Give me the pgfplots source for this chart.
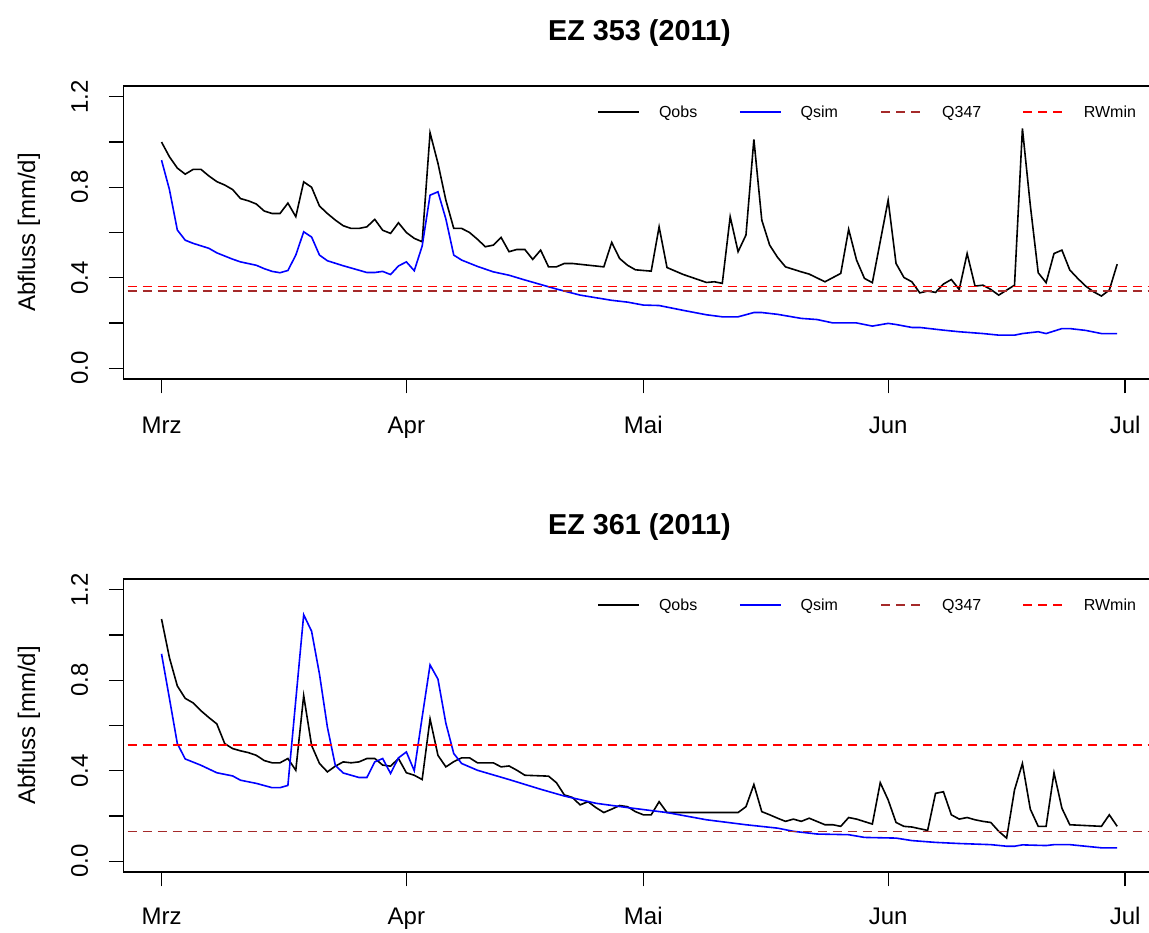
\documentclass[border=0pt]{standalone}
\usepackage{fontspec}
\setmainfont{Liberation Sans}
\usepackage{pgfplots}
\pgfplotsset{compat=1.18}
\definecolor{qbrown}{RGB}{165,42,42}
\definecolor{qblue}{RGB}{0,0,255}
\definecolor{qred}{RGB}{255,0,0}

\pgfplotsset{
  ezaxis/.style={
    scale only axis, width=516.05pt, height=146.5pt,
    xmin=-4.84, xmax=125.84, ymin=-0.048, ymax=1.248,
    xtick={0,31,61,92,122}, xticklabels={Mrz,Apr,Mai,Jun,Jul},
    ytick={0,0.4,0.8,1.2}, yticklabels={0.0,0.4,0.8,1.2},
    minor ytick={0.2,0.6,1.0},
    tick align=outside, tick pos=left,
    major tick length=7.2pt, minor tick length=7.2pt,
    every tick/.style={black, line width=0.6pt},
    axis line style={line width=0.6pt, black},
    ticklabel style={font=\fontsize{12}{14}\selectfont},
    xticklabel style={anchor=base, yshift=-20.25pt},
    yticklabel style={xshift=-10.5pt, rotate=90, anchor=base},
    ylabel={Abfluss [mm/d]},
    ylabel style={at={(axis description cs:-0.0855,0.5)}, anchor=base, rotate=0, font=\fontsize{12}{14}\selectfont},
    title style={at={(axis description cs:0.5,1)}, anchor=base, yshift=16.5pt, font=\bfseries\fontsize{14.4}{17}\selectfont},
    legend columns=4,
    legend cell align=left,
    legend image code/.code={\draw[#1] (0pt,0.4pt) -- (20.5pt,0.4pt);},
    legend style={at={(axis description cs:0.459,0.908)}, anchor=west, draw=none, fill=none, inner sep=0pt,
      font=\fontsize{8}{9.6}\selectfont,
      /tikz/every odd column/.append style={column sep=9.5pt},
      /tikz/every even column/.append style={column sep=0pt},
      nodes={inner sep=0pt, text width=40pt, align=left}},
  },
  obs/.style={black, line width=0.8pt},
  sim/.style={qblue, line width=0.8pt},
  q347/.style={qbrown, line width=0.8pt, dash pattern=on 4.5pt off 3pt},
  rwmin/.style={qred, line width=0.8pt, dash pattern=on 4.5pt off 3pt},
}

\begin{document}
\begin{tikzpicture}
\path[use as bounding box] (0,0) rectangle (574.5pt,466pt);

% ---------------- EZ 353 ----------------
\begin{axis}[ezaxis, at={(61.65pt,423pt)}, anchor=north west, title={EZ 353 (2011)}]
\addplot[obs] table {
0 1.00
1 0.935
2 0.885
3 0.858
4 0.879
5 0.879
6 0.85
7 0.825
8 0.81
9 0.79
10 0.75
11 0.74
12 0.726
13 0.695
14 0.684
15 0.684
16 0.73
17 0.67
18 0.824
19 0.80
20 0.717
21 0.684
22 0.655
23 0.63
24 0.618
25 0.618
26 0.625
27 0.658
28 0.61
29 0.596
30 0.643
31 0.60
32 0.574
33 0.559
34 1.041
35 0.906
36 0.743
37 0.618
38 0.618
39 0.60
40 0.57
41 0.537
42 0.544
43 0.578
44 0.515
45 0.525
46 0.525
47 0.481
48 0.522
49 0.448
50 0.448
51 0.463
52 0.463
56 0.448
57 0.556
58 0.485
59 0.455
60 0.435
62 0.429
63 0.625
64 0.445
66 0.415
69 0.379
70 0.382
71 0.375
72 0.67
73 0.515
74 0.589
75 1.012
76 0.655
77 0.544
78 0.49
79 0.448
81 0.426
82 0.416
84 0.382
86 0.419
87 0.614
88 0.478
89 0.397
90 0.378
92 0.743
93 0.463
94 0.401
95 0.382
96 0.333
97 0.341
98 0.335
99 0.372
100 0.392
101 0.348
102 0.507
103 0.363
104 0.367
105 0.348
106 0.323
107 0.345
108 0.367
109 1.06
110 0.72
111 0.422
112 0.378
113 0.507
114 0.522
115 0.434
116 0.397
117 0.363
118 0.338
119 0.319
120 0.345
121 0.46
};
\addlegendentry{Qobs}
\addplot[sim] table {
0 0.92
1 0.79
2 0.611
3 0.566
4 0.552
6 0.53
7 0.51
9 0.482
10 0.47
12 0.455
13 0.44
14 0.428
15 0.422
16 0.432
17 0.50
18 0.603
19 0.58
20 0.50
21 0.475
23 0.453
24 0.443
26 0.423
27 0.423
28 0.428
29 0.414
30 0.452
31 0.47
32 0.431
33 0.54
34 0.765
35 0.78
36 0.66
37 0.50
38 0.478
40 0.45
42 0.426
44 0.411
46 0.39
48 0.37
50 0.35
53 0.323
57 0.30
59 0.292
61 0.279
63 0.277
66 0.256
69 0.236
71 0.227
73 0.227
75 0.246
76 0.246
78 0.238
81 0.22
83 0.215
85 0.20
88 0.20
90 0.186
92 0.198
93 0.193
95 0.18
96 0.18
99 0.168
101 0.161
104 0.153
106 0.146
108 0.146
109 0.153
111 0.161
112 0.153
114 0.175
115 0.175
117 0.167
119 0.153
121 0.153
};
\addlegendentry{Qsim}
\addplot[q347] table {
-10 0.342
135 0.342
};
\addlegendentry{Q347}
\addplot[rwmin] table {
-10 0.361
135 0.361
};
\addlegendentry{RWmin}
\end{axis}

% ---------------- EZ 361 ----------------
\begin{axis}[ezaxis, at={(61.65pt,176.5pt)}, anchor=north west, title={EZ 361 (2011)},
  xticklabel style={yshift=1pt}]
\addplot[obs] table {
0 1.071
1 0.90
2 0.775
3 0.72
4 0.70
5 0.665
6 0.635
7 0.607
8 0.52
9 0.498
10 0.488
11 0.48
12 0.468
13 0.445
14 0.435
15 0.435
16 0.454
17 0.402
18 0.732
19 0.512
20 0.432
21 0.395
22 0.42
23 0.439
24 0.435
25 0.439
26 0.454
27 0.454
28 0.425
29 0.42
30 0.454
31 0.391
32 0.38
33 0.361
34 0.629
35 0.468
36 0.417
37 0.44
38 0.457
39 0.457
40 0.435
42 0.435
43 0.417
44 0.421
45 0.402
46 0.38
49 0.376
50 0.347
51 0.293
52 0.282
53 0.249
54 0.263
55 0.237
56 0.215
57 0.23
58 0.246
59 0.241
60 0.219
61 0.205
62 0.205
63 0.263
64 0.215
73 0.215
74 0.241
75 0.339
76 0.219
77 0.205
78 0.19
79 0.176
80 0.186
81 0.176
82 0.19
84 0.161
85 0.161
86 0.154
87 0.193
88 0.186
90 0.164
91 0.347
92 0.271
93 0.171
94 0.154
95 0.151
97 0.136
98 0.30
99 0.307
100 0.205
101 0.186
102 0.193
103 0.183
104 0.176
105 0.171
106 0.132
107 0.102
108 0.315
109 0.432
110 0.23
111 0.154
112 0.154
113 0.391
114 0.234
115 0.161
119 0.154
120 0.205
121 0.154
};
\addlegendentry{Qobs}
\addplot[sim] table {
0 0.917
1 0.72
2 0.52
3 0.452
5 0.424
7 0.391
9 0.377
10 0.358
12 0.344
14 0.325
15 0.325
16 0.335
18 1.09
19 1.017
20 0.827
21 0.593
22 0.424
23 0.39
25 0.37
26 0.37
27 0.439
28 0.454
29 0.388
30 0.457
31 0.483
32 0.40
33 0.637
34 0.868
35 0.805
36 0.61
37 0.476
38 0.432
40 0.402
44 0.361
48 0.318
51 0.288
55 0.256
59 0.237
64 0.215
69 0.183
74 0.161
78 0.146
80 0.132
83 0.12
87 0.117
89 0.105
93 0.102
95 0.091
98 0.083
101 0.078
105 0.073
107 0.066
108 0.066
109 0.072
112 0.069
113 0.073
115 0.073
119 0.059
121 0.059
};
\addlegendentry{Qsim}
\addplot[q347] table {
-10 0.132
135 0.132
};
\addlegendentry{Q347}
\addplot[rwmin] table {
-10 0.514
135 0.514
};
\addlegendentry{RWmin}
\end{axis}
\end{tikzpicture}
\end{document}
